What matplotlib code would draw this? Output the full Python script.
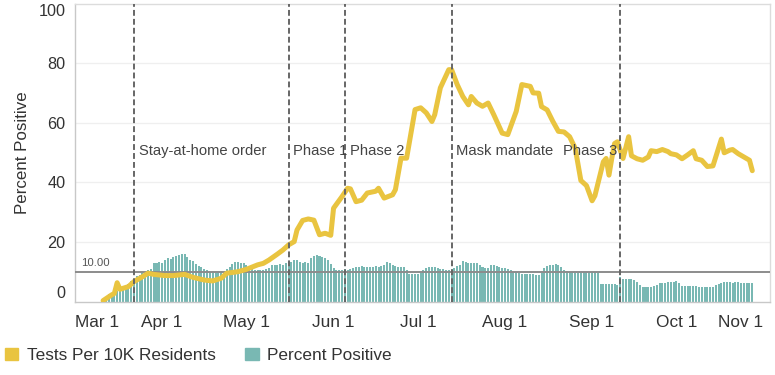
import numpy as np
import matplotlib
matplotlib.use('Agg')
import matplotlib.pyplot as plt
import matplotlib.dates as mdates
from matplotlib.patches import Patch

plt.rcParams['font.family'] = 'Liberation Sans'

# --- DATA ---
START = '2020-03-01'

# percent positive, one bar per day starting Mar 12 (day 11 after Mar 1)
pos_first_day = 11
pos_values = [
    1.5, 2.5, 2.0, 3.0, 3.5, 4.0, 4.5, 5.5, 6.0, 7.0, 7.5, 8.5, 9.0, 9.5, 10.0,
    10.5, 11.0, 12.8, 13.0, 13.4, 13.0, 14.0, 14.5, 14.2, 15.0, 15.3, 15.6, 16.0,
    15.8, 15.0, 14.0, 13.5, 12.5, 12.0, 11.5, 11.0, 10.5, 10.0, 9.8, 9.5, 9.5,
    9.8, 10.0, 11.0, 11.7, 12.5, 13.4, 13.2, 12.8, 12.8, 12.3, 11.7, 11.2, 10.6,
    10.6, 10.6, 10.6, 11.0, 11.2, 12.3, 12.3, 12.3, 12.5, 12.3, 13.0, 13.4, 13.4,
    14.0, 13.8, 13.4, 13.0, 13.4, 13.0, 14.5, 15.3, 15.6, 15.4, 15.0, 14.5, 14.0,
    12.5, 11.2, 10.6, 10.6, 10.6, 10.8, 10.6, 10.8, 11.2, 11.7, 11.7, 11.9, 11.7,
    11.7, 11.7, 11.7, 11.9, 11.7, 11.9, 12.3, 13.4, 13.0, 12.3, 12.0, 11.7, 11.7,
    11.5, 10.5, 9.2, 9.2, 9.2, 9.2, 9.5, 10.5, 11.2, 11.5, 11.5, 11.5, 11.2, 10.8,
    10.8, 10.6, 10.6, 10.8, 11.2, 11.9, 12.3, 13.7, 13.4, 13.0, 13.0, 13.0, 12.8,
    12.3, 11.7, 11.1, 11.2, 12.3, 12.3, 11.9, 11.5, 11.1, 11.1, 11.0, 10.5, 10.0,
    10.0, 9.5, 9.1, 9.1, 9.1, 9.1, 9.1, 8.9, 8.9, 9.5, 11.1, 11.9, 12.3, 12.3,
    12.5, 12.3, 11.7, 10.6, 10.4, 10.0, 9.8, 9.5, 9.5, 9.8, 10.0, 10.0, 10.0,
    10.0, 10.0, 9.5, 5.8, 5.8, 5.8, 5.8, 5.8, 5.8, 5.5, 8.3, 7.5, 7.5, 7.4, 7.4,
    7.2, 6.5, 5.5, 5.0, 5.0, 5.0, 5.0, 5.2, 5.5, 6.1, 6.1, 6.1, 6.5, 6.7, 6.7,
    6.8, 6.2, 5.3, 5.3, 5.3, 5.3, 5.3, 5.3, 5.0, 5.0, 5.0, 5.0, 5.0, 5.0, 5.5,
    5.8, 6.2, 6.4, 6.4, 6.4, 6.2, 6.4, 6.4, 6.2, 6.1, 6.1, 6.1, 6.1,
]

# tests per 10K residents (days after Mar 1, value)
test_day = [
    10, 13, 14, 15, 16, 19, 21, 24, 26, 28, 32, 35, 39, 42, 46, 49, 52, 54, 58,
    61, 65, 67, 69, 72, 74, 76, 78, 79, 81, 83, 85, 87, 89, 91, 92, 95, 97, 98,
    100, 102, 104, 107, 108, 110, 113, 114, 116, 118, 121, 123, 125, 127, 128,
    130, 133, 134, 136, 138, 140, 141, 143, 145, 147, 149, 152, 154, 157, 159,
    162, 163, 165, 166, 168, 170, 172, 174, 176, 178, 180, 182, 184, 185, 188,
    189, 190, 191, 192, 193, 195, 197, 198, 200, 202, 204, 205, 207, 209, 211,
    212, 214, 216, 218, 220, 221, 223, 225, 227, 228, 230, 231, 233, 234, 236,
    238, 240, 241,
]
test_values = [
    0.3, 2.2, 2.7, 6.3, 4.1, 5.0, 6.7, 8.3, 9.5, 9.1, 8.7, 8.7, 9.1, 8.1, 7.2,
    6.9, 7.8, 9.5, 10.0, 10.8, 12.3, 12.8, 13.9, 15.9, 17.3, 19.0, 20.1, 24.0,
    27.2, 27.7, 27.3, 22.4, 22.9, 22.2, 31.3, 35.2, 38.0, 37.8, 33.5, 34.0, 36.4,
    37.0, 38.0, 34.7, 35.8, 37.5, 48.1, 48.1, 64.4, 65.0, 63.3, 60.4, 62.7, 71.7,
    77.8, 77.8, 72.8, 68.8, 66.0, 68.8, 66.6, 65.5, 66.6, 62.7, 56.5, 56.0, 63.8,
    72.8, 72.2, 70.0, 69.9, 65.4, 64.3, 60.5, 57.1, 56.9, 55.3, 51.4, 40.6, 38.9,
    33.8, 35.5, 46.9, 48.0, 42.4, 48.0, 53.0, 53.6, 48.0, 55.3, 48.9, 47.9, 47.4,
    48.5, 50.6, 50.3, 51.0, 50.3, 49.6, 49.2, 47.9, 49.2, 50.6, 47.9, 47.4, 45.3,
    45.5, 48.5, 54.5, 49.9, 50.8, 51.0, 49.6, 48.5, 47.4, 43.9,
]

event_day = [21, 76, 96, 134, 194]
event_labels = ['Stay-at-home order', 'Phase 1', 'Phase 2', 'Mask mandate', 'Phase 3']

month_day = [0, 31, 61, 92, 122, 153, 184, 214, 245]
month_labels = ['Mar 1', 'Apr 1', 'May 1', 'Jun 1', 'Jul 1', 'Aug 1', 'Sep 1', 'Oct 1', 'Nov 1']
y_ticks = [0, 20, 40, 60, 80, 100]
target = 10.0

YELLOW = '#E9C440'
TEAL = '#79B8B3'

# --- FIGURE ---
t0 = mdates.date2num(np.datetime64(START))
fig = plt.figure(figsize=(7.75, 3.75), dpi=100)
ax = fig.add_axes([75 / 775, 73.5 / 375, 695 / 775, 298 / 375])

bar_x = t0 + pos_first_day + np.arange(len(pos_values))
ax.bar(bar_x, pos_values, width=0.72, color=TEAL, zorder=2)

ax.axhline(target, color='#8c8c8c', lw=1.4, zorder=3)
ax.text(t0 + 2.2, target + 1.2, f'{target:.2f}', fontsize=8.2, color='#555555',
        va='bottom', ha='left', zorder=5)

ax.plot(t0 + np.array(test_day), test_values, color=YELLOW, lw=3.6,
        solid_joinstyle='round', solid_capstyle='round', zorder=4)

for i, (d, lab) in enumerate(zip(event_day, event_labels)):
    ax.axvline(t0 + d, color='#666666', lw=1.4, ls=(0, (3, 1.6)), zorder=6)
    if i == len(event_day) - 1:
        ax.text(t0 + d - 1.0, 50.5, lab, ha='right', va='center',
                fontsize=10.6, color='#444444', zorder=7)
    else:
        ax.text(t0 + d + 1.7, 50.5, lab, ha='left', va='center',
                fontsize=10.6, color='#444444', zorder=7)

ax.set_xlim(t0 + 0.85, t0 + 247.3)
ax.set_ylim(0, 100)

for y in y_ticks[1:-1]:
    ax.axhline(y, color='#efefef', lw=0.9, zorder=0)

ax.set_yticks(y_ticks)
ax.set_yticklabels([str(v) for v in y_ticks], fontsize=11.7, color='#333333')
ylabs = ax.get_yticklabels()
ylabs[0].set_va('bottom')
ylabs[-1].set_va('top')

ax.set_xticks(t0 + np.array(month_day))
ax.set_xticklabels(month_labels, fontsize=12.4, color='#333333')
xlabs = ax.get_xticklabels()
xlabs[0].set_ha('left')
xlabs[-1].set_ha('right')

ax.tick_params(axis='both', length=0)
ax.tick_params(axis='x', pad=10)
ax.tick_params(axis='y', pad=7)

ax.set_ylabel('Percent Positive', fontsize=12.2, color='#333333', labelpad=6)

for side in ['left', 'bottom', 'top', 'right']:
    ax.spines[side].set_linewidth(1.0)
ax.spines['left'].set_color('#c8c8c8')
ax.spines['bottom'].set_color('#c8c8c8')
ax.spines['top'].set_color('#dcdcdc')
ax.spines['right'].set_color('#dcdcdc')

handles = [Patch(color=YELLOW, label='Tests Per 10K Residents'),
           Patch(color=TEAL, label='Percent Positive')]
fig.legend(handles=handles, loc='lower left', bbox_to_anchor=(5 / 775, 12 / 375),
           ncol=2, frameon=False, fontsize=12.4, handlelength=0.78,
           handleheight=0.78, handletextpad=0.5, columnspacing=1.7,
           borderpad=0, borderaxespad=0, labelcolor='#333333')

fig.savefig('out.png', dpi=100)
